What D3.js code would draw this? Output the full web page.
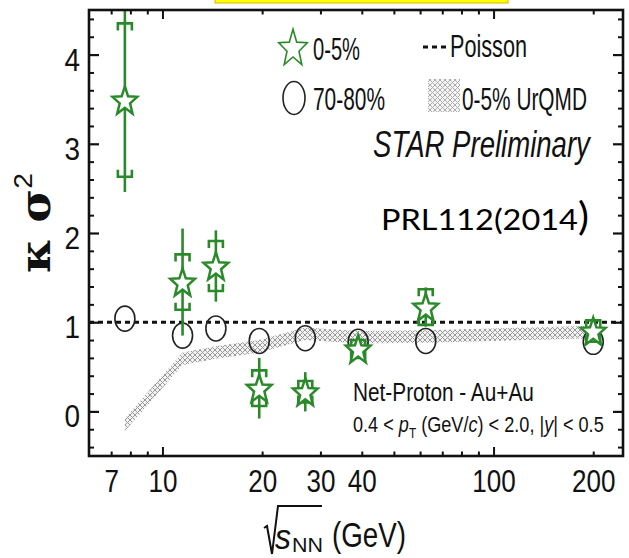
<!DOCTYPE html>
<html><head><meta charset="utf-8">
<script src="https://cdn.jsdelivr.net/npm/d3@7"></script>
<style>body{margin:0;background:#fff}svg{display:block}</style>
</head><body>
<svg id="c" width="629" height="558"></svg>
<script>
// ---- data ----
const energies = [7.7, 11.5, 14.5, 19.6, 27, 39, 62.4, 200];
const central = [3.49, 1.45, 1.63, 0.26, 0.22, 0.70, 1.17, 0.90];       // 0-5%
const centralStat = [1.03, 0.60, 0.40, 0.34, 0.22, 0.08, 0.22, 0.10];
const centralSys = [0.86, 0.31, 0.28, 0.20, 0.12, 0.10, 0.20, 0.12];
const peripheral = [1.04, 0.85, 0.93, 0.79, 0.82, 0.78, 0.79, 0.78];    // 70-80%
const urqmdEnergies = [7.7, 11.5, 14.5, 19.6, 27, 39, 62.4, 200];
const urqmd = [-0.15, 0.59, 0.66, 0.73, 0.87, 0.83, 0.84, 0.89];
const urqmdHalfWidth = 0.07;
const poisson = 1;
const xTickLabels = [7, 10, 20, 30, 40, 100, 200];
const xMinorTicks = [7, 8, 9, 20, 30, 40, 50, 60, 70, 80, 90, 200];
const xMajorTicks = [10, 100];
const yTickLabels = [0, 1, 2, 3, 4];
const yMinorTicks = [-0.4,-0.2,0.2,0.4,0.6,0.8,1.2,1.4,1.6,1.8,2.2,2.4,2.6,2.8,3.2,3.4,3.6,3.8,4.2,4.4];

// ---- setup ----
const svg = d3.select('#c');
const L = 89, R = 623, T = 10, B = 456;
const x = d3.scaleLog().domain([6, 246]).range([L, R]);
const y = d3.scaleLinear().domain([-0.5, 4.5]).range([B, T]);
const GREEN = '#2a8a2a';
const SANS = '"Liberation Sans", Arial, Helvetica, sans-serif';

const defs = svg.append('defs');
const pat = defs.append('pattern').attr('id','hatch').attr('patternUnits','userSpaceOnUse')
  .attr('width',5).attr('height',5);
pat.append('rect').attr('width',5).attr('height',5).attr('fill','#f2f2f2');
pat.append('path').attr('d','M0,0L5,5M0,5L5,0').attr('stroke','#9a9a9a').attr('stroke-width',1);
defs.append('clipPath').attr('id','plotclip').append('rect')
  .attr('x',L).attr('y',T).attr('width',R-L).attr('height',B-T);

// yellow highlight remnant at the top
svg.append('rect').attr('x',215).attr('y',-3).attr('width',293).attr('height',6)
  .attr('fill','#ffff00').attr('stroke','#d8b800').attr('stroke-width',1);

// text helper: fits text to a target width by horizontal scaling
function fitText(parent, o) {
  const g = parent.append('g');
  const t = g.append('text').attr('x',0).attr('y',0)
    .attr('font-family', o.family || SANS).attr('font-size', o.fs)
    .attr('font-style', o.style || 'normal').attr('font-weight', o.weight || 'normal')
    .attr('fill', o.fill || '#111');
  (o.parts || [{t:o.text}]).forEach(p => {
    const s = t.append('tspan').text(p.t);
    if (p.fs) s.attr('font-size', p.fs);
    if (p.dy != null) s.attr('dy', p.dy);
    if (p.style) s.attr('font-style', p.style);
    if (p.family) s.attr('font-family', p.family);
    if (p.weight) s.attr('font-weight', p.weight);
  });
  const w = t.node().getComputedTextLength();
  const sx = o.width ? o.width / w : 1;
  const rot = o.rotate ? ` rotate(${o.rotate})` : '';
  let tx = 0;
  if (o.anchor === 'middle') tx = -w/2; else if (o.anchor === 'end') tx = -w;
  t.attr('x', tx);
  g.attr('transform', `translate(${o.x},${o.y})${rot} scale(${sx},1)`);
  return g;
}

// ---- UrQMD band ----
const bandData = urqmdEnergies.map((e,i)=>({e, v: urqmd[i]}));
svg.append('path').datum(bandData)
  .attr('clip-path','url(#plotclip)')
  .attr('d', d3.area().x(d=>x(d.e)).y0(d=>y(d.v-urqmdHalfWidth)).y1(d=>y(d.v+urqmdHalfWidth)))
  .attr('fill','url(#hatch)');

// ---- Poisson line ----
svg.append('line').attr('x1',L).attr('x2',R).attr('y1',y(poisson)).attr('y2',y(poisson))
  .attr('stroke','#111').attr('stroke-width',3).attr('stroke-dasharray','5,4');

// ---- 70-80% circles ----
svg.append('g').selectAll('ellipse').data(energies).join('ellipse')
  .attr('cx', d=>x(d)).attr('cy',(d,i)=>y(peripheral[i]))
  .attr('rx',10).attr('ry',12.5).attr('fill','none').attr('stroke','#222').attr('stroke-width',1.6);

// ---- 0-5% error bars ----
const eg = svg.append('g').attr('clip-path','url(#plotclip)');
eg.selectAll('line.stat').data(energies).join('line').attr('class','stat')
  .attr('x1',d=>x(d)).attr('x2',d=>x(d))
  .attr('y1',(d,i)=>y(central[i]+centralStat[i])).attr('y2',(d,i)=>y(central[i]-centralStat[i]))
  .attr('stroke',GREEN).attr('stroke-width',2.6);
const cw = 7, ch = 7;
eg.selectAll('path.systop').data(energies).join('path').attr('class','systop')
  .attr('d',(d,i)=>{const cx=x(d), cy=y(central[i]+centralSys[i]);
    return `M${cx-cw},${cy+ch}V${cy}H${cx+cw}V${cy+ch}`;})
  .attr('fill','none').attr('stroke',GREEN).attr('stroke-width',2.6);
eg.selectAll('path.sysbot').data(energies).join('path').attr('class','sysbot')
  .attr('d',(d,i)=>{const cx=x(d), cy=y(central[i]-centralSys[i]);
    return `M${cx-cw},${cy-ch}V${cy}H${cx+cw}V${cy-ch}`;})
  .attr('fill','none').attr('stroke',GREEN).attr('stroke-width',2.6);

// ---- stars ----
function starPath(cx, cy, Rr, sy, ratio) {
  const pts = [];
  for (let i=0;i<10;i++){
    const a = -Math.PI/2 + i*Math.PI/5;
    const r = i%2 ? Rr*ratio : Rr;
    pts.push([cx + r*Math.cos(a), cy + r*Math.sin(a)*sy + Rr*sy*0.09]);
  }
  return 'M' + pts.map(p=>p.join(',')).join('L') + 'Z';
}
svg.append('g').selectAll('path').data(energies).join('path')
  .attr('d',(d,i)=>starPath(x(d), y(central[i]), 13, 1.15, 0.42))
  .attr('fill','#fff').attr('stroke',GREEN).attr('stroke-width',2.5).attr('stroke-linejoin','miter');

// ---- axes ----
function styleAxis(g, sw) {
  g.select('.domain').remove();
  g.selectAll('line').attr('stroke','#111').attr('stroke-width', sw);
}
svg.append('g').attr('transform',`translate(0,${B})`)
  .call(d3.axisBottom(x).tickValues(xMinorTicks).tickSize(-4.5).tickFormat('')).call(g=>styleAxis(g,2));
svg.append('g').attr('transform',`translate(0,${B})`)
  .call(d3.axisBottom(x).tickValues(xMajorTicks).tickSize(-9).tickFormat('')).call(g=>styleAxis(g,2));
svg.append('g').attr('transform',`translate(0,${T})`)
  .call(d3.axisTop(x).tickValues(xMinorTicks).tickSize(-4.5).tickFormat('')).call(g=>styleAxis(g,2));
svg.append('g').attr('transform',`translate(0,${T})`)
  .call(d3.axisTop(x).tickValues(xMajorTicks).tickSize(-9).tickFormat('')).call(g=>styleAxis(g,2));
svg.append('g').attr('transform',`translate(${L},0)`)
  .call(d3.axisLeft(y).tickValues(yMinorTicks).tickSize(-5).tickFormat('')).call(g=>styleAxis(g,2));
svg.append('g').attr('transform',`translate(${L},0)`)
  .call(d3.axisLeft(y).tickValues(yTickLabels).tickSize(-10).tickFormat('')).call(g=>styleAxis(g,2.2));
svg.append('g').attr('transform',`translate(${R},0)`)
  .call(d3.axisRight(y).tickValues(yMinorTicks).tickSize(-5).tickFormat('')).call(g=>styleAxis(g,2));
svg.append('g').attr('transform',`translate(${R},0)`)
  .call(d3.axisRight(y).tickValues(yTickLabels).tickSize(-10).tickFormat('')).call(g=>styleAxis(g,2.2));

function condense(g, sx) {
  g.selectAll('text').each(function(){
    const w = this.getComputedTextLength();
    this.setAttribute('textLength', w*sx);
    this.setAttribute('lengthAdjust','spacingAndGlyphs');
  });
}
const xl = svg.append('g').attr('transform',`translate(0,${B})`)
  .call(d3.axisBottom(x).tickValues(xTickLabels).tickSize(0).tickPadding(14).tickFormat(d3.format('d')));
xl.select('.domain').remove();
xl.attr('font-family',SANS).attr('font-size',31);
xl.selectAll('text').attr('fill','#111');
condense(xl, 0.84);

const yl = svg.append('g').attr('transform',`translate(${L},0)`)
  .call(d3.axisLeft(y).tickValues(yTickLabels).tickSize(0).tickPadding(9).tickFormat(d3.format('d')));
yl.select('.domain').remove();
yl.attr('font-family',SANS).attr('font-size',31);
yl.selectAll('text').attr('fill','#111').attr('dy','0.5em');
condense(yl, 0.9);

// frame
svg.append('rect').attr('x',L).attr('y',T).attr('width',R-L).attr('height',B-T)
  .attr('fill','none').attr('stroke','#111').attr('stroke-width',2.6);

// ---- legend ----
svg.append('path').attr('d', starPath(293, 47, 15, 1.3, 0.42))
  .attr('fill','#fff').attr('stroke',GREEN).attr('stroke-width',1.6);
fitText(svg,{x:313,y:60,text:'0-5%',fs:31,width:47});
svg.append('ellipse').attr('cx',294).attr('cy',98).attr('rx',11).attr('ry',16.5)
  .attr('fill','none').attr('stroke','#222').attr('stroke-width',1.6);
fitText(svg,{x:313,y:110,text:'70-80%',fs:32,width:72});
svg.append('line').attr('x1',423).attr('x2',448).attr('y1',47).attr('y2',47)
  .attr('stroke','#111').attr('stroke-width',3).attr('stroke-dasharray','5,4');
fitText(svg,{x:450,y:57,text:'Poisson',fs:32,width:77});
svg.append('rect').attr('x',428).attr('y',79).attr('width',32).attr('height',33)
  .attr('fill','url(#hatch)').attr('opacity',0.8);
fitText(svg,{x:462,y:110,text:'0-5% UrQMD',fs:32,width:125});

// ---- annotations ----
fitText(svg,{x:373,y:157,text:'STAR Preliminary',fs:37,width:217,style:'italic'});
fitText(svg,{x:381,y:230,text:'PRL112(2014',fs:29,width:197,family:'Lato, "Open Sans", sans-serif',fill:'#000'});
fitText(svg,{x:578,y:230,text:')',fs:38,width:11,family:'Lato, "Open Sans", sans-serif',fill:'#000'});
fitText(svg,{x:353,y:401,text:'Net-Proton - Au+Au',fs:26,width:181});
fitText(svg,{x:353,y:432,fs:23,width:251,parts:[
  {t:'0.4 < '},{t:'p',style:'italic'},{t:'T',fs:15,dy:6},{t:' (GeV/',dy:-6},{t:'c',style:'italic'},
  {t:') < 2.0, |'},{t:'y',style:'italic'},{t:'| < 0.5'}]});

// ---- axis titles ----
svg.append('path').attr('d','M264,528L267,526L272,554L278,506L322,506')
  .attr('fill','none').attr('stroke','#111').attr('stroke-width',2);
fitText(svg,{x:275,y:549,text:'s',fs:36,width:16,style:'italic'});
fitText(svg,{x:292,y:552,text:'NN',fs:21,width:31});
fitText(svg,{x:332,y:547,text:'(GeV)',fs:35,width:74});

fitText(svg,{x:50,y:223,anchor:'middle',rotate:-90,fs:42,width:100,weight:'bold',
  family:'"DejaVu Serif", serif',parts:[{t:'κ σ'},{t:'2',fs:26,dy:-18,family:SANS,weight:'normal'}]});
</script>
</body></html>
